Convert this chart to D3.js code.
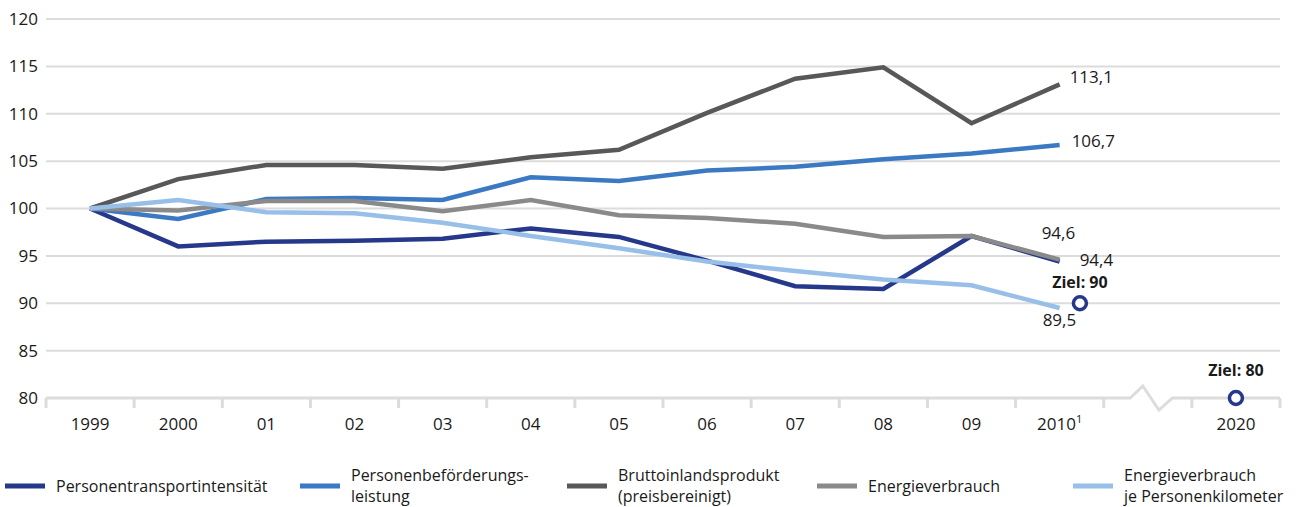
<!DOCTYPE html>
<html>
<head>
<meta charset="utf-8">
<script src="https://cdn.jsdelivr.net/npm/d3@7"></script>
<style>
  body { margin: 0; background: #fff; }
  svg { font-family: "Open Sans", sans-serif; }
</style>
</head>
<body>
<div id="chart"></div>
<script>
// categories on the x axis ("gap" is the axis break slot)
const years = ["1999", "2000", "01", "02", "03", "04", "05", "06", "07", "08", "09", "2010"];
const slots = [...years, "gap", "2020"];
const yTicks = [80, 85, 90, 95, 100, 105, 110, 115, 120];

const transportIntensity = [100, 96.0, 96.5, 96.6, 96.8, 97.9, 97.0, 94.5, 91.8, 91.5, 97.1, 94.4];
const passengerTransport = [100, 98.9, 101.0, 101.1, 100.9, 103.3, 102.9, 104.0, 104.4, 105.2, 105.8, 106.7];
const gdp = [100, 103.1, 104.6, 104.6, 104.2, 105.4, 106.2, 110.1, 113.7, 114.9, 109.0, 113.1];
const energyUse = [100, 99.8, 100.8, 100.8, 99.7, 100.9, 99.3, 99.0, 98.4, 97.0, 97.1, 94.6];
const energyPerPkm = [100, 100.9, 99.6, 99.5, 98.5, 97.1, 95.8, 94.4, 93.4, 92.5, 91.9, 89.5];

const targetSlots = ["2010", "2020"];
const targetValues = [90, 80];
const targetLabels = ["Ziel: 90", "Ziel: 80"];

const series = [
    { name: ["Personentransportintensität"], values: transportIntensity, color: "#26388a", end: "94,4" },
    { name: ["Personenbeförderungs-", "leistung"], values: passengerTransport, color: "#3b79c3", end: "106,7" },
    { name: ["Bruttoinlandsprodukt", "(preisbereinigt)"], values: gdp, color: "#585858", end: "113,1" },
    { name: ["Energieverbrauch"], values: energyUse, color: "#8a8a8a", end: "94,6" },
    { name: ["Energieverbrauch", "je Personenkilometer"], values: energyPerPkm, color: "#97bfe8", end: "89,5" }
];

const width = 1300, height = 507;
const margin = { top: 19, left: 46, right: 20, bottom: 109 };

const svg = d3.select("#chart").append("svg")
    .attr("width", width)
    .attr("height", height);

const x = d3.scaleBand()
    .domain(slots)
    .range([margin.left, width - margin.right]);

const y = d3.scaleLinear()
    .domain([80, 120])
    .range([height - margin.bottom, margin.top]);

const cx = d => x(d) + x.bandwidth() / 2;

// gridlines
svg.append("g")
    .selectAll("line")
    .data(yTicks.filter(t => t > 80))
    .join("line")
    .attr("x1", margin.left)
    .attr("x2", width - margin.right)
    .attr("y1", d => y(d))
    .attr("y2", d => y(d))
    .attr("stroke", "#dcdcdc")
    .attr("stroke-width", 2);

// y labels
svg.append("g")
    .selectAll("text")
    .data(yTicks)
    .join("text")
    .attr("x", 38)
    .attr("y", d => y(d))
    .attr("dy", "0.35em")
    .attr("text-anchor", "end")
    .attr("font-size", 17)
    .attr("fill", "#1a1a1a")
    .text(d => d);

// x axis with break
const axisY = y(80);
const gapL = x("gap") + x.bandwidth() * 0.3;
const gapR = x("gap") + x.bandwidth() * 0.78;
const gapW = gapR - gapL;
svg.append("path")
    .attr("d", `M${margin.left},${axisY}H${gapL}` +
        `L${gapL + gapW * 0.3},${axisY - 12}L${gapL + gapW * 0.68},${axisY + 12}L${gapR},${axisY}` +
        `H${width - margin.right}`)
    .attr("fill", "none")
    .attr("stroke", "#dcdcdc")
    .attr("stroke-width", 3);

// tick marks at every slot boundary
const tickPos = slots.map(s => x(s)).concat([width - margin.right]);
svg.append("g")
    .selectAll("line")
    .data(tickPos)
    .join("line")
    .attr("x1", d => d)
    .attr("x2", d => d)
    .attr("y1", axisY)
    .attr("y2", axisY + 10)
    .attr("stroke", "#dcdcdc")
    .attr("stroke-width", 3);

const xLabels = svg.append("g");
slots.filter(s => s !== "gap").forEach(s => {
    const t = xLabels.append("text")
        .attr("x", cx(s))
        .attr("y", 430)
        .attr("text-anchor", "middle")
        .attr("font-size", 17)
        .attr("fill", "#1a1a1a")
        .text(s);
    if (s === "2010") {
        t.append("tspan").attr("dy", -7).attr("font-size", 11).text("1");
    }
});

// lines
const line = d3.line()
    .x((d, i) => cx(years[i]))
    .y(d => y(d));

svg.append("g")
    .selectAll("path")
    .data(series)
    .join("path")
    .attr("d", d => line(d.values))
    .attr("fill", "none")
    .attr("stroke", d => d.color)
    .attr("stroke-width", 4.5)
    .attr("stroke-linejoin", "miter");

// end labels
const last = years.length - 1;
const endOffsets = [[20, -2], [12, -4], [10, -7], [-18, -27], [-17, 12]];
svg.append("g")
    .selectAll("text")
    .data(series)
    .join("text")
    .attr("x", (d, i) => cx(years[last]) + endOffsets[i][0])
    .attr("y", (d, i) => y(d.values[last]) + endOffsets[i][1])
    .attr("dy", "0.35em")
    .attr("font-size", 17)
    .attr("fill", "#1a1a1a")
    .text(d => d.end);

// targets
const targetShift = [0.23, 0];
const labelRise = [15, 22];
const tx = i => cx(targetSlots[i]) + x.bandwidth() * targetShift[i];
const tg = svg.append("g");
tg.selectAll("circle")
    .data(targetValues)
    .join("circle")
    .attr("cx", (d, i) => tx(i))
    .attr("cy", d => y(d))
    .attr("r", 6.5)
    .attr("fill", "#fff")
    .attr("stroke", "#26388a")
    .attr("stroke-width", 3.5);
tg.selectAll("text")
    .data(targetValues)
    .join("text")
    .attr("x", (d, i) => tx(i))
    .attr("y", (d, i) => y(d) - labelRise[i])
    .attr("text-anchor", "middle")
    .attr("font-size", 16)
    .attr("font-weight", "bold")
    .attr("fill", "#1a1a1a")
    .text((d, i) => targetLabels[i]);

// legend
const legendX = [5, 300, 567, 817, 1073];
const legend = svg.append("g");
series.forEach((s, i) => {
    const g = legend.append("g").attr("transform", `translate(${legendX[i]},486)`);
    g.append("line")
        .attr("x1", 0).attr("x2", 40)
        .attr("y1", 0).attr("y2", 0)
        .attr("stroke", s.color)
        .attr("stroke-width", 5);
    s.name.forEach((n, j) => {
        g.append("text")
            .attr("x", 51)
            .attr("y", s.name.length === 1 ? 6 : -5.5 + j * 21)
            .attr("font-size", 16)
            .attr("fill", "#1a1a1a")
            .text(n);
    });
});
</script>
</body>
</html>
